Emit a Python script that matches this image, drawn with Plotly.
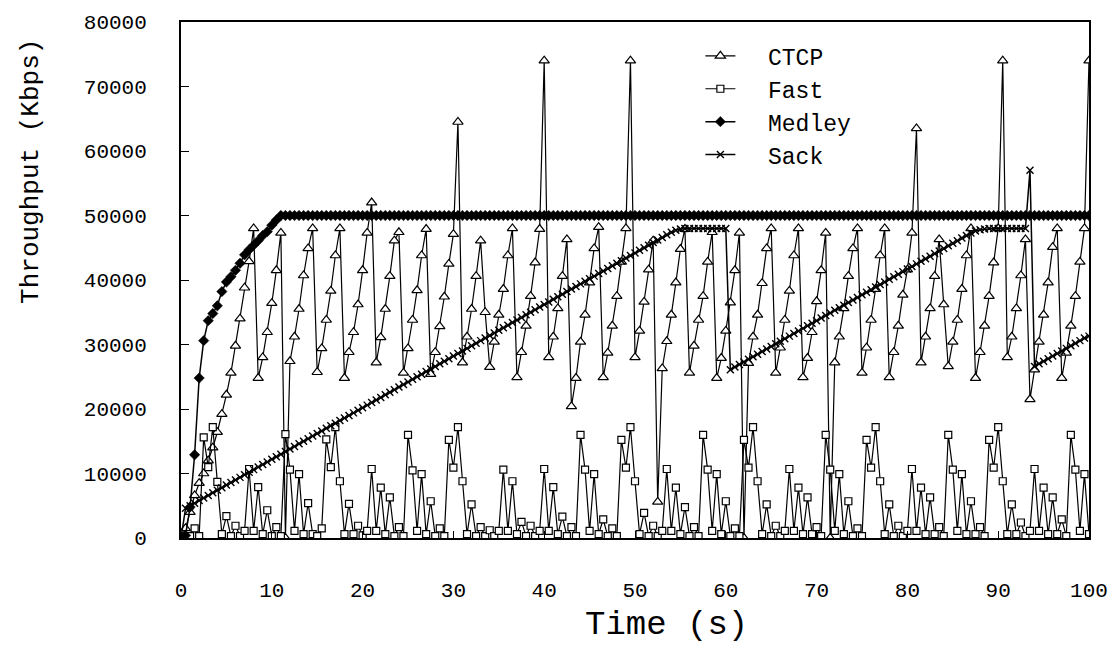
import plotly.graph_objects as go

# sampling interval of the measurements (s)
STEP = 0.5

# Throughput values in thousands of Kbps, one value every 0.5 s from t = 0 to 100 s
ctcp_k = [
    0.0, 1.5, 4.0, 6.6, 8.5, 10.0, 12.0, 14.0, 16.4, 19.2,
    22.2, 25.6, 29.8, 34.0, 38.8, 42.9, 48.0, 24.8, 28.0, 31.9,
    36.4, 41.5, 47.3, 0.0, 27.4, 31.2, 35.5, 40.7, 44.9, 48.0,
    25.7, 29.4, 33.8, 38.3, 43.8, 48.0, 24.8, 28.8, 31.9, 36.2,
    41.5, 47.3, 52.0, 27.2, 31.1, 35.5, 40.6, 46.1, 47.4, 25.6,
    29.4, 33.8, 38.4, 43.8, 47.9, 25.4, 28.8, 32.8, 37.4, 42.5,
    47.1, 64.5, 27.2, 31.2, 35.5, 40.6, 46.1, 35.0, 26.5, 30.4,
    34.6, 38.6, 43.8, 48.0, 24.9, 28.8, 32.9, 37.5, 42.7, 47.9,
    74.0, 28.0, 31.2, 35.6, 40.6, 46.3, 20.4, 24.8, 30.4, 34.6,
    39.6, 44.9, 48.2, 24.9, 28.7, 32.9, 37.5, 42.8, 48.0, 74.0,
    28.0, 32.1, 36.6, 41.6, 46.1, 5.6, 26.3, 30.5, 34.6, 39.6,
    44.8, 47.9, 25.6, 29.8, 33.8, 37.5, 42.8, 47.4, 24.8, 27.9,
    32.1, 36.5, 41.5, 47.3, 0.0, 27.1, 31.2, 34.6, 39.5, 44.9,
    48.0, 25.6, 29.5, 33.8, 38.3, 43.8, 48.0, 24.9, 27.9, 31.9,
    36.7, 41.5, 47.3, 0.0, 27.2, 31.2, 35.6, 40.6, 44.9, 48.0,
    25.6, 29.5, 33.8, 38.6, 43.8, 48.0, 24.9, 28.8, 32.9, 37.7,
    41.6, 47.3, 63.5, 27.2, 31.2, 35.6, 40.6, 46.3, 36.2, 26.6,
    30.4, 33.8, 38.6, 43.8, 48.0, 24.8, 28.8, 32.9, 37.5, 42.7,
    48.0, 74.0, 28.0, 31.2, 35.6, 40.7, 46.3, 21.5, 26.1, 30.4,
    34.6, 39.6, 45.1, 48.0, 24.8, 28.7, 32.9, 37.5, 42.8, 48.0,
    74.0,
]

fast_k = [
    0.0, 0.3, 0.3, 1.5, 0.3, 15.6, 11.0, 17.2, 8.7, 0.6,
    3.4, 0.3, 1.9, 0.3, 1.1, 10.7, 1.1, 7.9, 0.6, 4.3,
    0.3, 1.7, 0.3, 16.1, 10.6, 1.1, 9.9, 0.6, 5.4, 0.6,
    0.3, 1.5, 15.3, 11.0, 17.2, 8.8, 0.6, 5.3, 0.6, 1.9,
    0.4, 1.1, 10.7, 1.1, 7.8, 0.6, 6.3, 0.3, 1.7, 0.3,
    16.0, 10.5, 1.1, 9.9, 0.6, 5.7, 0.3, 1.5, 0.3, 15.2,
    10.9, 17.2, 8.8, 0.6, 5.2, 0.3, 1.7, 0.3, 1.2, 0.3,
    1.1, 10.6, 1.1, 8.8, 0.6, 2.5, 0.3, 1.9, 0.3, 1.1,
    10.7, 1.1, 7.9, 0.6, 3.3, 0.3, 1.7, 0.3, 16.0, 10.6,
    1.1, 9.9, 0.6, 2.9, 0.3, 1.5, 0.3, 15.2, 10.9, 17.2,
    8.8, 0.6, 3.9, 0.3, 1.9, 0.3, 1.1, 10.7, 1.1, 7.8,
    0.6, 4.8, 0.3, 1.7, 0.3, 16.0, 10.6, 1.1, 9.9, 0.6,
    5.7, 0.3, 1.5, 0.3, 15.2, 10.9, 17.2, 8.8, 0.6, 5.2,
    0.3, 1.9, 0.3, 1.1, 10.7, 1.1, 7.8, 0.6, 6.3, 0.6,
    1.7, 0.3, 16.0, 10.6, 1.1, 9.9, 0.6, 5.7, 0.3, 1.5,
    0.3, 15.2, 10.9, 17.2, 8.8, 0.6, 5.2, 0.3, 1.9, 0.3,
    1.1, 10.7, 1.1, 7.8, 0.6, 6.3, 0.6, 1.7, 0.3, 16.0,
    10.6, 1.1, 9.9, 0.6, 5.7, 0.6, 1.7, 0.3, 15.2, 10.9,
    17.2, 8.8, 0.6, 5.2, 0.6, 2.4, 0.3, 1.1, 10.7, 1.1,
    7.8, 0.6, 6.3, 0.6, 2.9, 0.3, 16.0, 10.6, 1.1, 9.9,
    0.6,
]

medley_k = [
    0.0, 0.4, 4.8, 12.9, 24.8, 30.6, 33.7, 34.8, 36.0, 38.2,
    39.7, 40.5, 41.5, 42.6, 43.9, 44.7, 45.4, 46.1, 46.9, 47.5,
    48.5, 49.3, 50.0, 50.0, 50.0, 50.0, 50.0, 50.0, 50.0, 50.0,
    50.0, 50.0, 50.0, 50.0, 50.0, 50.0, 50.0, 50.0, 50.0, 50.0,
    50.0, 50.0, 50.0, 50.0, 50.0, 50.0, 50.0, 50.0, 50.0, 50.0,
    50.0, 50.0, 50.0, 50.0, 50.0, 50.0, 50.0, 50.0, 50.0, 50.0,
    50.0, 50.0, 50.0, 50.0, 50.0, 50.0, 50.0, 50.0, 50.0, 50.0,
    50.0, 50.0, 50.0, 50.0, 50.0, 50.0, 50.0, 50.0, 50.0, 50.0,
    50.0, 50.0, 50.0, 50.0, 50.0, 50.0, 50.0, 50.0, 50.0, 50.0,
    50.0, 50.0, 50.0, 50.0, 50.0, 50.0, 50.0, 50.0, 50.0, 50.0,
    50.0, 50.0, 50.0, 50.0, 50.0, 50.0, 50.0, 50.0, 50.0, 50.0,
    50.0, 50.0, 50.0, 50.0, 50.0, 50.0, 50.0, 50.0, 50.0, 50.0,
    50.0, 50.0, 50.0, 50.0, 50.0, 50.0, 50.0, 50.0, 50.0, 50.0,
    50.0, 50.0, 50.0, 50.0, 50.0, 50.0, 50.0, 50.0, 50.0, 50.0,
    50.0, 50.0, 50.0, 50.0, 50.0, 50.0, 50.0, 50.0, 50.0, 50.0,
    50.0, 50.0, 50.0, 50.0, 50.0, 50.0, 50.0, 50.0, 50.0, 50.0,
    50.0, 50.0, 50.0, 50.0, 50.0, 50.0, 50.0, 50.0, 50.0, 50.0,
    50.0, 50.0, 50.0, 50.0, 50.0, 50.0, 50.0, 50.0, 50.0, 50.0,
    50.0, 50.0, 50.0, 50.0, 50.0, 50.0, 50.0, 50.0, 50.0, 50.0,
    50.0, 50.0, 50.0, 50.0, 50.0, 50.0, 50.0, 50.0, 50.0, 50.0,
    50.0,
]

sack_k = [
    0.0, 4.6, 5.0, 5.4, 5.8, 6.2, 6.6, 7.0, 7.4, 7.8,
    8.2, 8.6, 9.0, 9.4, 9.8, 10.2, 10.6, 11.0, 11.4, 11.8,
    12.2, 12.6, 13.0, 13.4, 13.8, 14.2, 14.6, 15.0, 15.4, 15.8,
    16.2, 16.6, 17.0, 17.4, 17.8, 18.2, 18.6, 19.0, 19.4, 19.8,
    20.2, 20.6, 21.0, 21.4, 21.8, 22.2, 22.6, 23.0, 23.4, 23.8,
    24.2, 24.6, 25.0, 25.4, 25.8, 26.2, 26.6, 27.0, 27.4, 27.8,
    28.2, 28.6, 29.0, 29.4, 29.8, 30.2, 30.6, 31.0, 31.4, 31.8,
    32.2, 32.6, 33.0, 33.4, 33.8, 34.2, 34.6, 35.0, 35.4, 35.8,
    36.2, 36.6, 37.0, 37.4, 37.8, 38.2, 38.6, 39.0, 39.4, 39.8,
    40.2, 40.6, 41.0, 41.4, 41.8, 42.2, 42.6, 43.0, 43.4, 43.8,
    44.2, 44.6, 45.0, 45.4, 45.8, 46.2, 46.6, 47.0, 47.4, 47.7,
    47.9, 48.0, 48.0, 48.0, 48.0, 48.0, 48.0, 48.0, 48.0, 48.0,
    48.0, 26.1, 26.5, 26.9, 27.3, 27.7, 28.1, 28.5, 28.9, 29.3,
    29.7, 30.1, 30.5, 30.9, 31.3, 31.7, 32.1, 32.5, 32.9, 33.3,
    33.7, 34.1, 34.5, 34.9, 35.3, 35.7, 36.1, 36.5, 36.9, 37.3,
    37.7, 38.1, 38.5, 38.9, 39.3, 39.7, 40.1, 40.5, 40.9, 41.3,
    41.7, 42.1, 42.5, 42.9, 43.3, 43.7, 44.1, 44.5, 44.9, 45.3,
    45.7, 46.1, 46.5, 46.9, 47.3, 47.6, 47.8, 47.9, 48.0, 48.0,
    48.0, 48.0, 48.0, 48.0, 48.0, 48.0, 48.0, 57.0, 26.6, 27.0,
    27.4, 27.8, 28.2, 28.6, 29.0, 29.4, 29.8, 30.2, 30.6, 31.0,
    31.3,
]

series_names = ["CTCP", "Fast", "Medley", "Sack"]
x_ticks = [0, 10, 20, 30, 40, 50, 60, 70, 80, 90, 100]
y_ticks = [0, 10000, 20000, 30000, 40000, 50000, 60000, 70000, 80000]

FONT = "Liberation Mono, Courier New, Courier, monospace"
GAP = "\u00a0\u00a0"  # gap between legend key and label


def times(vals):
    return [i * STEP for i in range(len(vals))]


def kbps(vals):
    return [v * 1000 for v in vals]


fig = go.Figure()

fig.add_trace(go.Scatter(
    x=times(ctcp_k), y=kbps(ctcp_k), name=GAP + series_names[0], mode="lines+markers",
    line=dict(color="black", width=1.2),
    marker=dict(symbol="triangle-up", size=9, color="white",
                line=dict(color="black", width=1.2)),
))
fig.add_trace(go.Scatter(
    x=times(fast_k), y=kbps(fast_k), name=GAP + series_names[1], mode="lines+markers",
    line=dict(color="black", width=1.2),
    marker=dict(symbol="square", size=7, color="white",
                line=dict(color="black", width=1.2)),
))
fig.add_trace(go.Scatter(
    x=times(medley_k), y=kbps(medley_k), name=GAP + series_names[2], mode="lines+markers",
    line=dict(color="black", width=1.5),
    marker=dict(symbol="diamond", size=8, color="black",
                line=dict(color="black", width=0.5)),
))
fig.add_trace(go.Scatter(
    x=times(sack_k), y=kbps(sack_k), name=GAP + series_names[3], mode="lines+markers",
    line=dict(color="black", width=1.5),
    marker=dict(symbol="x-thin", size=7, color="black",
                line=dict(color="black", width=1.4)),
))

fig.update_layout(
    width=1120, height=646, autosize=False,
    margin=dict(l=181, r=28, t=18, b=108),
    paper_bgcolor="white", plot_bgcolor="white",
    font=dict(family=FONT, color="black", size=20),
    showlegend=True,
    legend=dict(
        x=0.572, y=0.976, xanchor="left", yanchor="top",
        bgcolor="rgba(0,0,0,0)", borderwidth=0,
        font=dict(family=FONT, size=23, color="black"),
        itemwidth=30, tracegroupgap=0,
    ),
    xaxis=dict(
        range=[0, 100], tickvals=x_ticks, ticktext=[str(v) for v in x_ticks],
        ticks="inside", ticklen=7, tickwidth=1.2, tickcolor="black",
        showline=True, linecolor="black", linewidth=2, mirror=True,
        showgrid=False, zeroline=False,
        tickfont=dict(family=FONT, size=21, color="black"),
        ticklabelstandoff=32,
    ),
    yaxis=dict(
        range=[0, 80000], tickvals=y_ticks, ticktext=[str(v) for v in y_ticks],
        ticks="inside", ticklen=8, tickwidth=1.2, tickcolor="black",
        showline=True, linecolor="black", linewidth=2, mirror=True,
        showgrid=False, zeroline=False,
        tickfont=dict(family=FONT, size=21, color="black"),
        ticklabelstandoff=28,
    ),
    annotations=[
        dict(text="Time (s)", xref="paper", yref="paper", x=0.5346, y=-0.168,
             xanchor="center", yanchor="middle", showarrow=False,
             font=dict(family=FONT, size=34, color="black")),
        dict(text="Throughput (Kbps)", xref="paper", yref="paper", x=-0.166, y=0.71,
             xanchor="center", yanchor="middle", showarrow=False, textangle=-90,
             font=dict(family=FONT, size=26, color="black")),
    ],
)

fig.write_html("out.html")
